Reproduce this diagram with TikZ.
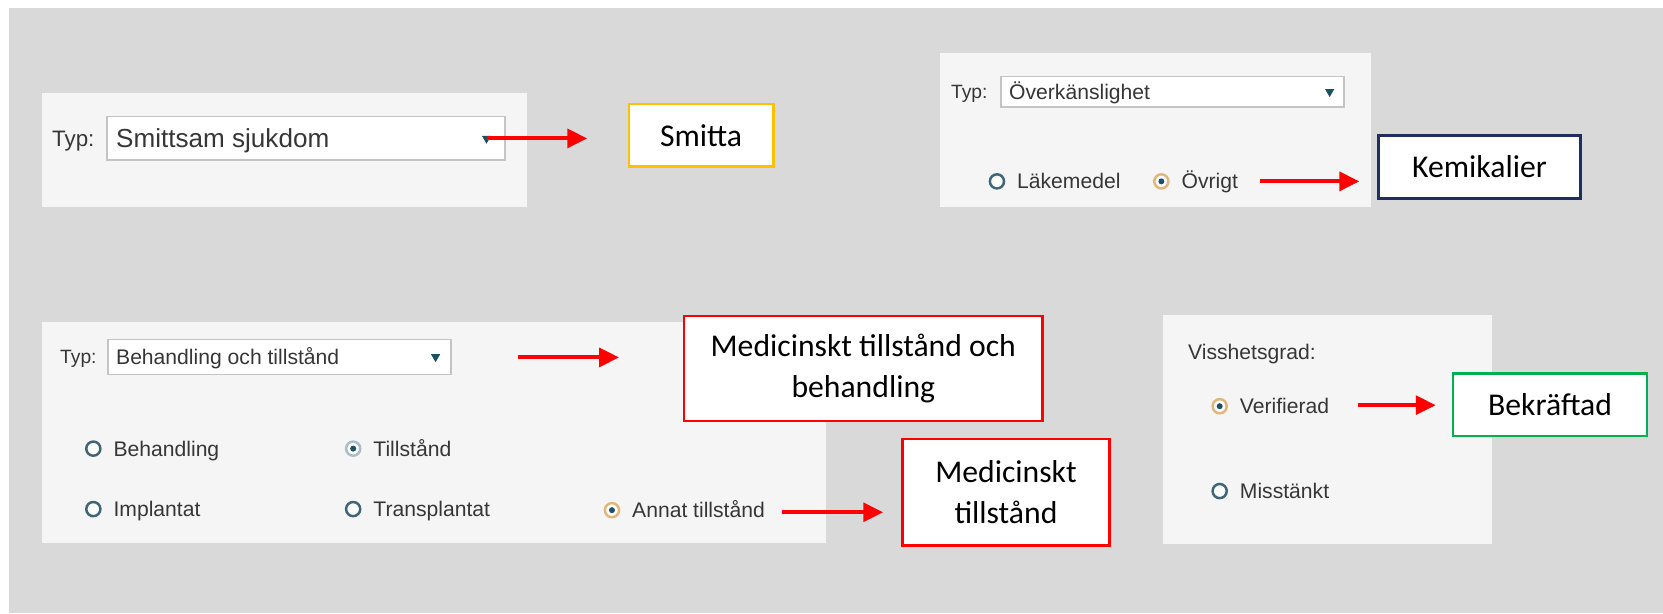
\documentclass[tikz,border=0pt]{standalone}
\usepackage{fontspec}
\setmainfont{Carlito}
\newfontfamily\uifont{Liberation Sans}
\usetikzlibrary{positioning,shapes.geometric,arrows.meta}
\definecolor{bggray}{HTML}{D9D9D9}
\definecolor{panelgray}{HTML}{F5F5F5}
\definecolor{ddborder}{HTML}{C4C4C4}
\definecolor{ddtricol}{HTML}{1D4F63}
\definecolor{uitextcol}{HTML}{363636}
\definecolor{radioring}{HTML}{3F6677}
\definecolor{radiodot}{HTML}{1F4E66}
\definecolor{radioselring}{HTML}{E2B57A}
\definecolor{radiodisring}{HTML}{A9BDC8}
\definecolor{smittacol}{HTML}{FFC000}
\definecolor{kemicol}{HTML}{1F2D5F}
\definecolor{medred}{HTML}{FF0000}
\definecolor{bekgreen}{HTML}{00B050}
\tikzstyle{arrow} = [medred, line width=3.2pt, -{Triangle[length=16pt,width=15pt]}]
\tikzstyle{panel} = [fill=panelgray]
\tikzstyle{dropdown} = [draw=ddborder, line width=1.2pt, fill=white, inner sep=0]
\tikzstyle{ddtri} = [fill=ddtricol, regular polygon, regular polygon sides=3, shape border rotate=180, minimum size=0.3cm, inner sep=0]
\tikzstyle{uitext} = [font=\uifont\fontsize{17}{20}\selectfont, text=uitextcol, inner sep=0, text height=12.2pt, text depth=0pt]
\tikzstyle{radio} = [circle, draw=radioring, fill=white, line width=2pt, minimum size=0.4cm, inner sep=0]
\tikzstyle{radiosel} = [radio, draw=radioselring, path picture={\fill[radiodot] (path picture bounding box.center) circle (0.085cm);}]
\tikzstyle{radiodis} = [radio, draw=radiodisring, path picture={\fill[radiodot] (path picture bounding box.center) circle (0.085cm);}]
\tikzstyle{answer} = [draw, line width=2.2pt, fill=white, font=\fontsize{25.5}{33}\selectfont, align=center, inner sep=0]

\begin{document}
\begin{tikzpicture}[x=0.03cm, y=-0.03cm]
	\useasboundingbox (0,0) rectangle (1568,578);
	\fill[bggray] (8.5,7.5) rectangle (1568,578);

	\fill[panel] (40,88) rectangle (497,195);
	\node[dropdown, minimum width=11.25cm, minimum height=1.23cm] (dd1) at (288.5,130.5) {};
	\node[uitext, left=0.33cm of dd1, font=\uifont\fontsize{18}{21}\selectfont, text height=12.9pt] (typ1) {Typ:};
	\node[uitext, anchor=west, font=\uifont\fontsize{21}{24}\selectfont, text height=15pt] (val1) at ([xshift=0.27cm]dd1.west) {Smittsam sjukdom};
	\node[ddtri] (tri1) at ([xshift=-0.54cm]dd1.east) {};
	\node[answer, draw=smittacol, minimum width=4.08cm, minimum height=1.77cm] (smitta) at (661,127.5) {Smitta};
	\draw[arrow, shorten >=1.14cm] (tri1.center) -- (tri1.center -| smitta.west);

	\fill[panel] (886,50) rectangle (1293,195);
	\node[dropdown, minimum width=9.69cm, minimum height=0.87cm] (dd2) at (1105.5,86.5) {};
	\node[uitext, left=0.36cm of dd2, font=\uifont\fontsize{15.5}{18}\selectfont, text height=11.1pt] (typ2) {Typ:};
	\node[uitext, anchor=west] (val2) at ([xshift=0.24cm]dd2.west) {Överkänslighet};
	\node[ddtri] (tri2) at ([xshift=-0.42cm]dd2.east) {};
	\node[radio] (lake) at (940,171) {};
	\node[uitext, right=0.33cm of lake] (laketxt) {Läkemedel};
	\node[radiosel] (ovr) at (1095,171) {};
	\node[uitext, right=0.33cm of ovr] (ovrtxt) {Övrigt};
	\node[answer, draw=kemicol, minimum width=5.7cm, minimum height=1.77cm] (kemi) at (1395,157.5) {Kemikalier};
	\coordinate (a2) at (1188,171);
	\draw[arrow, shorten >=0.51cm] (a2) -- (a2 -| kemi.west);

	\fill[panel] (40,304) rectangle (779,512);
	\node[dropdown, minimum width=9.69cm, minimum height=0.99cm] (dd3) at (263.5,336.5) {};
	\node[uitext, left=0.3cm of dd3, font=\uifont\fontsize{15.5}{18}\selectfont, text height=11.1pt] (typ3) {Typ:};
	\node[uitext, anchor=west] (val3) at ([xshift=0.24cm]dd3.west) {Behandling och tillstånd};
	\node[ddtri] (tri3) at ([xshift=-0.45cm]dd3.east) {};
	\node[radio] (beh) at (88,423) {};
	\node[uitext, right=0.33cm of beh] (behtxt) {Behandling};
	\node[radiodis] (till) at (333,423) {};
	\node[uitext, right=0.33cm of till] (tilltxt) {Tillstånd};
	\node[radio] (impl) at (88,480) {};
	\node[uitext, right=0.33cm of impl] (impltxt) {Implantat};
	\node[radio] (trans) at (333,480) {};
	\node[uitext, right=0.33cm of trans] (transtxt) {Transplantat};
	\node[radiosel] (annat) at (577,481) {};
	\node[uitext, right=0.33cm of annat] (annattxt) {Annat tillstånd};
	\node[answer, draw=medred, minimum width=10.14cm, minimum height=2.97cm] (medbeh) at (814,347.5) {Medicinskt tillstånd och\\behandling};
	\node[answer, draw=medred, minimum width=5.85cm, minimum height=3cm] (med) at (948.5,464) {Medicinskt\\tillstånd};
	\coordinate (a3) at (488,337);
	\draw[arrow, shorten >=1.8cm] (a3) -- (a3 -| medbeh.west);
	\coordinate (a4) at (737,483);
	\draw[arrow, shorten >=0.51cm] (a4) -- (a4 -| med.west);

	\fill[panel] (1097,297) rectangle (1407,513);
	\node[uitext, anchor=west] (viss) at (1120,332) {Visshetsgrad:};
	\node[radiosel] (verif) at (1150,383) {};
	\node[uitext, right=0.33cm of verif] (veriftxt) {Verifierad};
	\node[radio] (miss) at (1150,463) {};
	\node[uitext, right=0.33cm of miss] (misstxt) {Misstänkt};
	\node[answer, draw=bekgreen, minimum width=5.49cm, minimum height=1.77cm] (bek) at (1461.5,381.5) {Bekräftad};
	\coordinate (a5) at (1280,382);
	\draw[arrow, shorten >=0.45cm] (a5) -- (a5 -| bek.west);
\end{tikzpicture}
\end{document}
